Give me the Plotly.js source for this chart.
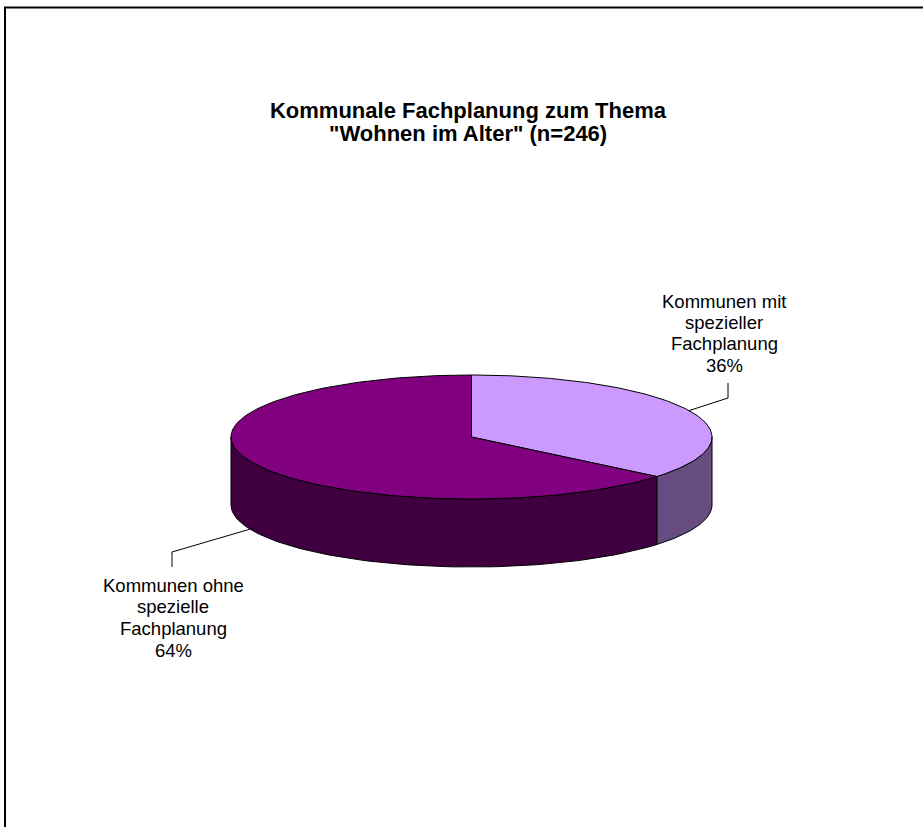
<!DOCTYPE html>
<html>
<head>
<meta charset="utf-8">
<script src="https://cdn.plot.ly/plotly-3.0.1.min.js"></script>
<style>html,body{margin:0;padding:0;background:#fff;}</style>
</head>
<body>
<div id="chart" style="width:923px;height:827px;"></div>
<script>
// ---- data ----
var categories = ["Kommunen mit\nspezieller\nFachplanung", "Kommunen ohne\nspezielle\nFachplanung"];
var values = [36, 64];
var topColors = ["#CC99FF", "#800080"];
var sideColors = ["#664C80", "#400040"];
var titleLine1 = "Kommunale Fachplanung zum Thema";
var titleLine2 = "\"Wohnen im Alter\" (n=246)";

// ---- geometry (layout) ----
var W = 923, H = 827;
var cx = 471.5, cy = 437, rx = 240.5, ry = 62, depth = 68;
var total = values.reduce(function(a, b){ return a + b; }, 0);

function pt(angDeg, dz) {
  var a = angDeg * Math.PI / 180;
  return [cx + rx * Math.sin(a), cy - ry * Math.cos(a) + (dz || 0)];
}

var traces = [];
var start = 0;
var slices = [];
values.forEach(function(v, i) {
  var sweep = v / total * 360;
  slices.push({a0: start, a1: start + sweep, i: i});
  start += sweep;
});

// side faces (visible front half: 90..270 deg)
slices.forEach(function(s) {
  var lo = Math.max(s.a0, 90), hi = Math.min(s.a1, 270);
  if (hi <= lo) return;
  var xs = [], ys = [], n = 80, k, p;
  for (k = 0; k <= n; k++) { p = pt(lo + (hi - lo) * k / n, 0); xs.push(p[0]); ys.push(p[1]); }
  for (k = n; k >= 0; k--) { p = pt(lo + (hi - lo) * k / n, depth); xs.push(p[0]); ys.push(p[1]); }
  xs.push(xs[0]); ys.push(ys[0]);
  traces.push({type: "scatter", mode: "lines", x: xs, y: ys, fill: "toself",
    fillcolor: sideColors[s.i], line: {color: "#000", width: 1}, hoverinfo: "skip", showlegend: false});
});

// top faces
slices.forEach(function(s) {
  var xs = [cx], ys = [cy], n = 160, k, p;
  for (k = 0; k <= n; k++) { p = pt(s.a0 + (s.a1 - s.a0) * k / n, 0); xs.push(p[0]); ys.push(p[1]); }
  xs.push(cx); ys.push(cy);
  traces.push({type: "scatter", mode: "lines", x: xs, y: ys, fill: "toself",
    fillcolor: topColors[s.i], line: {color: "#000", width: 1}, hoverinfo: "skip", showlegend: false});
});

// leader lines + labels (one annotation per text line for Excel-like line spacing)
var labelPos = [
  {elbow: [728, 398], end: [728, 383], lx: 724, firstY: 301.5, step: 21.2},
  {elbow: [172, 552], end: [172, 567], lx: 173, firstY: 585, step: 21.7}
];
var annotations = [];
slices.forEach(function(s) {
  var mid = (s.a0 + s.a1) / 2;
  var front = (mid > 90 && mid < 270);
  var p = pt(mid, front ? depth * 0.95 : 0);
  var L = labelPos[s.i];
  traces.push({type: "scatter", mode: "lines",
    x: [p[0], L.elbow[0], L.end[0]], y: [p[1], L.elbow[1], L.end[1]],
    line: {color: "#000", width: 1}, hoverinfo: "skip", showlegend: false});
  var lines = categories[s.i].split("\n").concat([Math.round(values[s.i] / total * 100) + "%"]);
  lines.forEach(function(t, j) {
    annotations.push({xref: "x", yref: "y", x: L.lx, y: L.firstY + j * L.step,
      xanchor: "center", yanchor: "middle", showarrow: false, align: "center", text: t,
      font: {family: "Liberation Sans, Arial, sans-serif", size: 18.5, color: "#000"}});
  });
});

var titleFont = {family: "Liberation Sans, Arial, sans-serif", size: 22, color: "#000", weight: "bold"};
// second title line (tighter Excel-like line spacing)
annotations.push({xref: "x", yref: "y", x: 468, y: 133, xanchor: "center", yanchor: "middle",
  showarrow: false, text: titleLine2, font: titleFont});

var layout = {
  width: W, height: H,
  margin: {l: 0, r: 0, t: 0, b: 0},
  paper_bgcolor: "#fff", plot_bgcolor: "#fff",
  xaxis: {range: [0, W], visible: false, fixedrange: true},
  yaxis: {range: [H, 0], visible: false, fixedrange: true},
  title: {text: titleLine1, x: 468 / W, xanchor: "center", y: 1 - 110 / H, yanchor: "middle",
    font: titleFont},
  shapes: [{type: "rect", xref: "x", yref: "y", x0: 5, y0: 7.5, x1: W + 10, y1: H + 10,
    line: {color: "#000", width: 2}, fillcolor: "rgba(0,0,0,0)", layer: "above"}],
  annotations: annotations,
  showlegend: false
};

Plotly.newPlot("chart", traces, layout, {staticPlot: true, displayModeBar: false});
</script>
</body>
</html>
